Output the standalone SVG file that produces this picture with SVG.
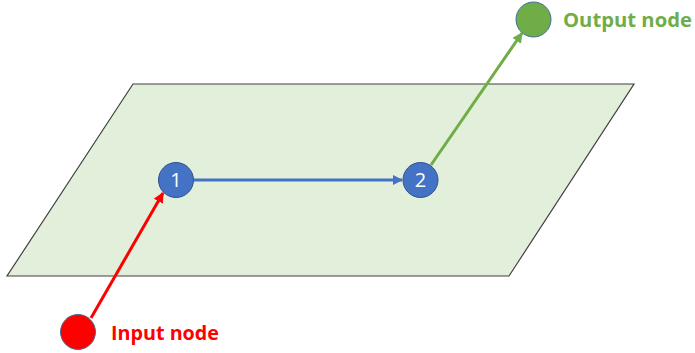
<svg xmlns="http://www.w3.org/2000/svg" width="695" height="353" viewBox="0 0 695 353">
  <style>
    .plane { fill: #E2EFDA; stroke: #404040; stroke-width: 1.2; }
    .node { fill: #4472C4; stroke: #2F528F; stroke-width: 1; }
    .num { fill: #FFFFFF; font-family: "Open Sans", "Liberation Sans", sans-serif; font-size: 20px; text-anchor: middle; }
    .label { font-family: "Open Sans", "Liberation Sans", sans-serif; font-size: 19px; font-weight: 700; }
    .edge { fill: none; stroke-width: 3; }
  </style>
  <defs>
    <marker id="arrowRed" viewBox="0 0 10 10" refX="9" refY="5" markerWidth="3.5" markerHeight="3.5" orient="auto">
      <path d="M0,0 L10,5 L0,10 z" fill="#FF0000"/>
    </marker>
    <marker id="arrowBlue" viewBox="0 0 10 10" refX="9" refY="5" markerWidth="3.5" markerHeight="3.5" orient="auto">
      <path d="M0,0 L10,5 L0,10 z" fill="#4472C4"/>
    </marker>
    <marker id="arrowGreen" viewBox="0 0 10 10" refX="9" refY="5" markerWidth="3.5" markerHeight="3.5" orient="auto">
      <path d="M0,0 L10,5 L0,10 z" fill="#70AD47"/>
    </marker>
  </defs>

  <!-- plane -->
  <polygon class="plane" points="133,84 634,84 509,276 7,276"/>

  <!-- connectors -->
  <g id="connectors">
    <line class="edge" x1="91" y1="318" x2="163" y2="193" stroke="#FF0000" marker-end="url(#arrowRed)"/>
    <line class="edge" x1="194" y1="180" x2="402" y2="180" stroke="#4472C4" stroke-width="2.5" marker-end="url(#arrowBlue)"/>
    <line class="edge" x1="431" y1="165" x2="522" y2="33" stroke="#70AD47" marker-end="url(#arrowGreen)"/>
  </g>

  <!-- nodes -->
  <g id="node1">
    <circle class="node" cx="176" cy="180" r="17.5"/>
    <text class="num" x="176" y="187">1</text>
  </g>
  <g id="node2">
    <circle class="node" cx="420.5" cy="180" r="17.5"/>
    <text class="num" x="420.5" y="187">2</text>
  </g>
  <g id="output">
    <circle cx="533.5" cy="19.5" r="17.5" fill="#70AD47" stroke="#41719C" stroke-width="1"/>
    <text class="label" x="563" y="27" fill="#70AD47" textLength="129" lengthAdjust="spacingAndGlyphs">Output node</text>
  </g>
  <g id="input">
    <circle cx="78" cy="332" r="17.5" fill="#FF0000" stroke="#41719C" stroke-width="1"/>
    <text class="label" x="111" y="340" fill="#FF0000" textLength="108" lengthAdjust="spacingAndGlyphs">Input node</text>
  </g>
</svg>
